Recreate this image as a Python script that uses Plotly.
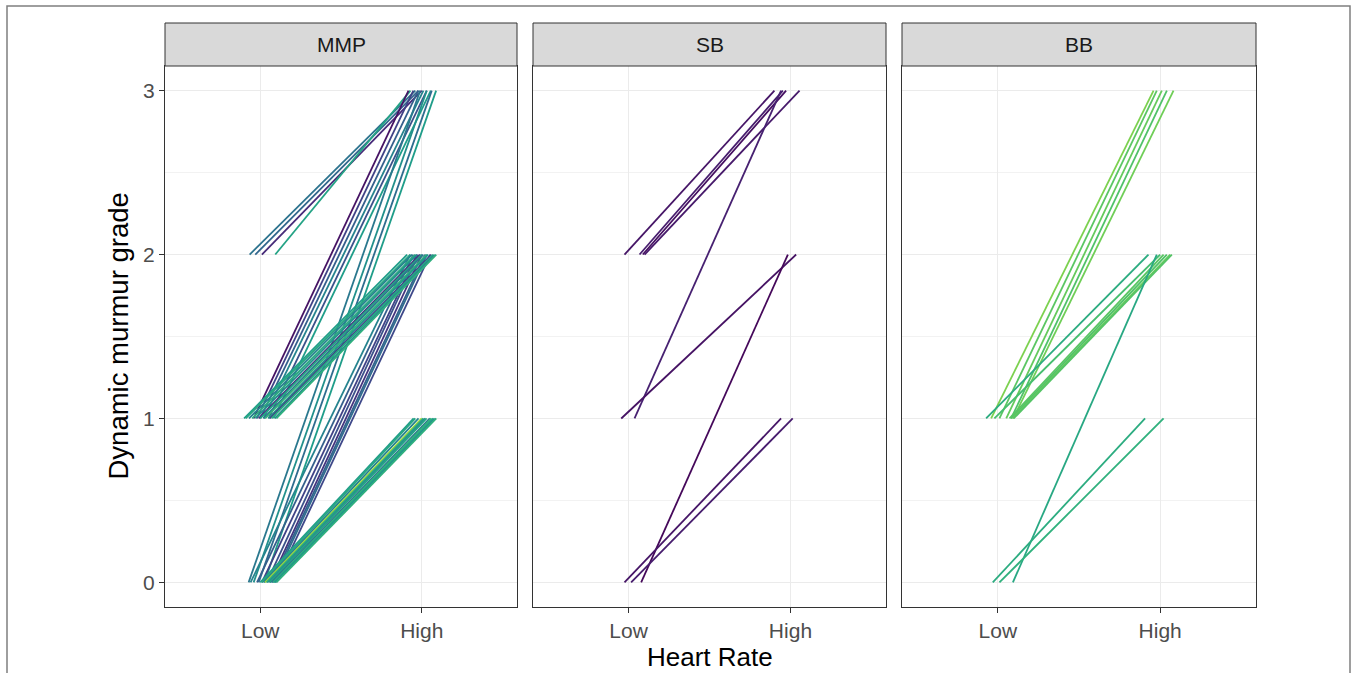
import plotly.graph_objects as go
from plotly.colors import sample_colorscale

# ---------------- data ----------------
facets = ["MMP", "SB", "BB"]
x_categories = ["Low", "High"]
y_ticks = [0, 1, 2, 3]

# MMP panel: grade at low HR, grade at high HR, jitter at each end, colour value (viridis 0-1)
mmp_low = [2, 2, 2, 2,
           1, 1, 1, 1, 1, 1,
           0, 0, 0, 0,
           0, 0, 0, 0, 0, 0, 0, 0,
           1, 1, 1, 1, 1, 1, 1, 1, 1, 1, 1, 1, 1, 1,
           0, 0, 0, 0, 0, 0, 0, 0, 0, 0, 0, 0]
mmp_high = [3, 3, 3, 3,
            3, 3, 3, 3, 3, 3,
            3, 3, 3, 3,
            2, 2, 2, 2, 2, 2, 2, 2,
            2, 2, 2, 2, 2, 2, 2, 2, 2, 2, 2, 2, 2, 2,
            1, 1, 1, 1, 1, 1, 1, 1, 1, 1, 1, 1]
mmp_low_jitter = [-0.066, -0.031, 0.010, 0.093,
                  -0.041, -0.021, 0.000, 0.021, 0.052, 0.082,
                  -0.072, -0.041, -0.010, 0.025,
                  -0.060, -0.020, 0.010, 0.040, 0.060, 0.070, 0.080, 0.095,
                  -0.100, -0.090, -0.070, -0.050, -0.030, -0.010, 0.000, 0.020, 0.030, 0.050, 0.060, 0.070, 0.090, 0.100,
                  0.000, 0.010, 0.020, 0.030, 0.040, 0.050, 0.060, 0.070, 0.080, 0.085, 0.090, 0.100]
mmp_high_jitter = [-0.040, -0.020, 0.000, -0.070,
                   -0.082, -0.052, -0.021, 0.010, 0.031, 0.056,
                   -0.010, 0.031, 0.062, 0.089,
                   -0.072, -0.052, -0.031, -0.021, 0.000, 0.021, 0.031, 0.052,
                   -0.090, -0.070, -0.060, -0.040, -0.030, -0.010, 0.000, 0.010, 0.030, 0.040, 0.060, 0.070, 0.080, 0.090,
                   -0.050, -0.040, -0.020, 0.000, 0.010, 0.020, 0.030, 0.050, 0.060, 0.070, 0.080, 0.090]
mmp_colour = [0.38, 0.33, 0.12, 0.58,
              0.05, 0.20, 0.30, 0.45, 0.25, 0.55,
              0.40, 0.50, 0.35, 0.55,
              0.45, 0.30, 0.20, 0.25, 0.15, 0.30, 0.35, 0.22,
              0.55, 0.60, 0.45, 0.62, 0.50, 0.15, 0.58, 0.40, 0.65, 0.52, 0.20, 0.60, 0.48, 0.63,
              0.55, 0.60, 0.45, 0.85, 0.62, 0.50, 0.58, 0.40, 0.65, 0.60, 0.52, 0.63]

# SB panel
sb_low = [2, 2, 2, 2, 1, 1, 0, 0, 0]
sb_high = [3, 3, 3, 3, 3, 2, 2, 1, 1]
sb_low_jitter = [-0.025, 0.068, 0.088, 0.099, 0.037, -0.045, 0.078, -0.025, 0.016]
sb_high_jitter = [-0.099, -0.047, -0.027, 0.056, -0.058, 0.035, -0.016, -0.058, 0.014]
sb_colour = [0.06, 0.08, 0.04, 0.07, 0.09, 0.05, 0.02, 0.06, 0.08]

# BB panel
bb_low = [1, 1, 1, 1, 1, 1, 1, 1, 1, 1, 1, 0, 0, 0]
bb_high = [3, 3, 3, 3, 3, 2, 2, 2, 2, 2, 2, 2, 1, 1]
bb_low_jitter = [-0.041, 0.010, 0.052, 0.082, 0.095, -0.072, -0.021, 0.072, 0.082, 0.090, 0.098, 0.093, -0.031, 0.010]
bb_high_jitter = [-0.041, -0.021, 0.010, 0.041, 0.082, -0.072, 0.000, 0.021, 0.041, 0.062, 0.072, -0.021, -0.093, 0.021]
bb_colour = [0.80, 0.74, 0.76, 0.72, 0.78, 0.62, 0.70, 0.74, 0.72, 0.76, 0.73, 0.60, 0.62, 0.64]

panels = [
    (mmp_low, mmp_high, mmp_low_jitter, mmp_high_jitter, mmp_colour),
    (sb_low, sb_high, sb_low_jitter, sb_high_jitter, sb_colour),
    (bb_low, bb_high, bb_low_jitter, bb_high_jitter, bb_colour),
]

# ---------------- layout geometry (screen pixels) ----------------
W, H = 1357, 673
OFF = 0  # body margin is removed by the post script
panel_px = [(165, 517), (533, 886), (902, 1256)]
panel_top, panel_bottom = 66, 607
strip_top = 23


def fx(p):
    return (p - OFF) / W


def fy(p):
    return 1 - (p - OFF) / H


fig = go.Figure()

for i, (lo, hi, lj, hj, cv) in enumerate(panels):
    ax = "" if i == 0 else str(i + 1)
    cols = sample_colorscale("Viridis", cv)
    for k in range(len(lo)):
        fig.add_trace(go.Scatter(
            x=[1 + lj[k], 2 + hj[k]], y=[lo[k], hi[k]],
            mode="lines", line=dict(color=cols[k], width=1.8),
            xaxis="x" + ax, yaxis="y" + ax,
            showlegend=False, hoverinfo="skip"))

axis_common = dict(showline=True, mirror=True, linecolor="#333333", linewidth=1,
                   zeroline=False, gridcolor="#ebebeb", gridwidth=1)
layout = dict(
    width=W, height=H,
    margin=dict(l=0, r=0, t=0, b=0),
    paper_bgcolor="white", plot_bgcolor="white",
    font=dict(family="Liberation Sans, Arial, sans-serif"),
    shapes=[], annotations=[],
)

for i, (x0, x1) in enumerate(panel_px):
    ax = "" if i == 0 else str(i + 1)
    layout["xaxis" + ax] = dict(
        domain=[fx(x0), fx(x1)], range=[0.41, 2.59],
        tickvals=[1, 2], ticktext=x_categories,
        ticks="outside", ticklen=5, tickcolor="#333333", tickwidth=1,
        tickfont=dict(size=21, color="#4d4d4d"),
        anchor="y" + ax, **axis_common)
    yd = dict(
        domain=[fy(panel_bottom), fy(panel_top)], range=[-0.15, 3.15],
        tickvals=y_ticks,
        minor=dict(tickvals=[0.5, 1.5, 2.5], showgrid=True, gridcolor="#f2f2f2", gridwidth=1),
        anchor="x" + ax, **axis_common)
    if i == 0:
        yd.update(ticks="outside", ticklen=5, tickcolor="#333333", tickwidth=1,
                  tickfont=dict(size=21, color="#4d4d4d"))
    else:
        yd.update(showticklabels=False, ticks="", matches="y")
    layout["yaxis" + ax] = yd

    layout["shapes"].append(dict(
        type="rect", xref="paper", yref="paper",
        x0=fx(x0), x1=fx(x1), y0=fy(panel_top), y1=fy(strip_top),
        fillcolor="#d9d9d9", line=dict(color="#333333", width=1), layer="above"))
    layout["annotations"].append(dict(
        text=facets[i], xref="paper", yref="paper",
        x=fx((x0 + x1) / 2), y=fy((strip_top + panel_top) / 2),
        showarrow=False, xanchor="center", yanchor="middle",
        font=dict(size=21, color="#1a1a1a")))

# axis titles
layout["annotations"].append(dict(
    text="Heart Rate", xref="paper", yref="paper",
    x=fx(710), y=fy(657), showarrow=False, xanchor="center", yanchor="middle",
    font=dict(size=26, color="black")))
layout["annotations"].append(dict(
    text="Dynamic murmur grade", xref="paper", yref="paper",
    x=fx(118), y=fy((panel_top + panel_bottom) / 2), showarrow=False,
    xanchor="center", yanchor="middle", textangle=-90,
    font=dict(size=27.5, color="black")))

# outer frame of the figure
layout["shapes"].append(dict(
    type="rect", xref="paper", yref="paper",
    x0=fx(7), x1=fx(1350), y0=-0.05, y1=fy(6),
    line=dict(color="#7f7f7f", width=1.5), fillcolor="rgba(0,0,0,0)"))

fig.update_layout(**layout)
fig.write_html("out.html", config={"displayModeBar": False},
               post_script="document.body.style.margin='0px';document.body.style.padding='0px';")
